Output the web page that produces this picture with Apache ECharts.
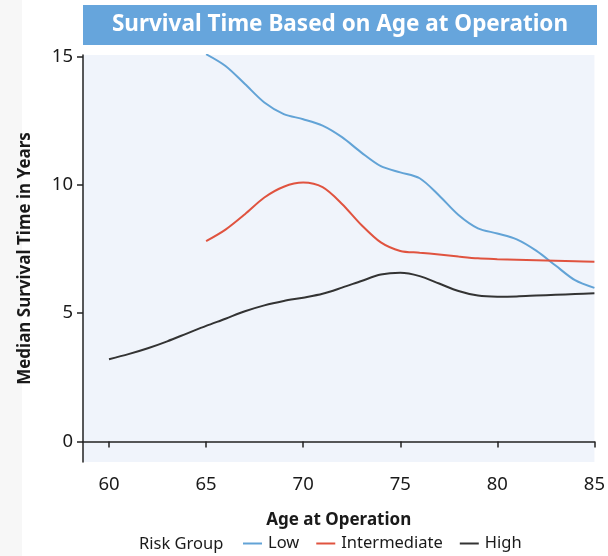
<!DOCTYPE html>
<html><head><meta charset="utf-8">
<script src="https://cdn.jsdelivr.net/npm/echarts@6/dist/echarts.min.js"></script>
<style>html,body{margin:0;padding:0;background:#fff}#c{width:608px;height:556px}</style>
</head><body><div id="c"></div>
<script>
const ages = [60,61,62,63,64,65,66,67,68,69,70,71,72,73,74,75,76,77,78,79,80,81,82,83,84,85];
const lowRisk = [null,null,null,null,null,15.08,14.62,13.92,13.2,12.75,12.55,12.3,11.85,11.25,10.72,10.48,10.25,9.58,8.82,8.3,8.1,7.87,7.43,6.85,6.28,5.98];
const intermediateRisk = [null,null,null,null,null,7.8,8.25,8.85,9.5,9.92,10.08,9.9,9.25,8.43,7.75,7.42,7.35,7.28,7.2,7.13,7.1,7.08,7.06,7.04,7.02,7.0];
const highRisk = [3.2,3.4,3.63,3.9,4.2,4.5,4.78,5.07,5.3,5.47,5.6,5.75,5.99,6.25,6.5,6.57,6.44,6.15,5.86,5.68,5.64,5.65,5.68,5.71,5.74,5.77];
const xTicks = [60,65,70,75,80,85];
const yTicks = [0,5,10,15];
const seriesNames = ['Low','Intermediate','High'];

const FONT = '"Noto Sans", "Open Sans", sans-serif';
const pairs = arr => ages.map((a,i)=>[a,arr[i]]).filter(p=>p[1]!==null);
const chart = echarts.init(document.getElementById('c'), null, {renderer:'canvas'});
const colors = ['#62a3d6','#e0533f','#333333'];
chart.setOption({
  animation:false,
  backgroundColor:'#ffffff',
  color: colors,
  graphic:[
    {type:'rect', left:0, top:0, shape:{width:22,height:556}, style:{fill:'#f7f7f7'}, z:-10},
    {type:'rect', shape:{x:83,y:5,width:514,height:40}, style:{fill:'#66a5dc'}},
    {type:'text', x:340, y:25, style:{text:'Survival Time Based on Age at Operation', fill:'#ffffff', font:'bold 22.5px '+FONT, align:'center', verticalAlign:'middle'}},
    {type:'text', x:139, y:544, style:{text:'Risk Group', fill:'#1a1a1a', font:'16.5px '+FONT, align:'left', verticalAlign:'middle'}}
  ],
  grid:{left:83, right:12, top:55, bottom:94, show:true, backgroundColor:'#f0f4fb', borderWidth:0},
  legend:{
    data: seriesNames, left:243, top:535, padding:0, itemWidth:19, itemHeight:2, itemGap:17, icon:'rect',
    textStyle:{fontFamily:FONT, fontSize:16.5, color:'#1a1a1a', padding:[0,0,0,1]}
  },
  xAxis:{
    type:'value', min:58.66, max:85,
    name:'Age at Operation', nameLocation:'middle', nameGap:50,
    nameTextStyle:{fontFamily:FONT, fontSize:17, fontWeight:'bold', color:'#1a1a1a'},
    axisLine:{show:true, lineStyle:{color:'#222', width:1.5}},
    axisTick:{show:true, length:6, customValues:xTicks, lineStyle:{color:'#222', width:1.5}},
    axisLabel:{customValues:xTicks, fontFamily:FONT, fontSize:18.5, color:'#1a1a1a', margin:13},
    splitLine:{show:false}
  },
  yAxis:{
    type:'value', min:-0.8, max:15.05,
    name:'Median Survival Time in Years', nameLocation:'middle', nameGap:49, nameRotate:90,
    nameTextStyle:{fontFamily:FONT, fontSize:17, fontWeight:'bold', color:'#1a1a1a'},
    axisLine:{show:true, lineStyle:{color:'#222', width:1.5}},
    axisTick:{show:true, length:6, customValues:yTicks, lineStyle:{color:'#222', width:1.5}},
    axisLabel:{customValues:yTicks, fontFamily:FONT, fontSize:18.5, color:'#1a1a1a', margin:10},
    splitLine:{show:false}
  },
  series:[
    {name:seriesNames[0], type:'line', smooth:0.3, showSymbol:false, data:pairs(lowRisk), lineStyle:{width:2}},
    {name:seriesNames[1], type:'line', smooth:0.3, showSymbol:false, data:pairs(intermediateRisk), lineStyle:{width:2}},
    {name:seriesNames[2], type:'line', smooth:0.3, showSymbol:false, data:pairs(highRisk), lineStyle:{width:2}}
  ]
});
</script></body></html>
